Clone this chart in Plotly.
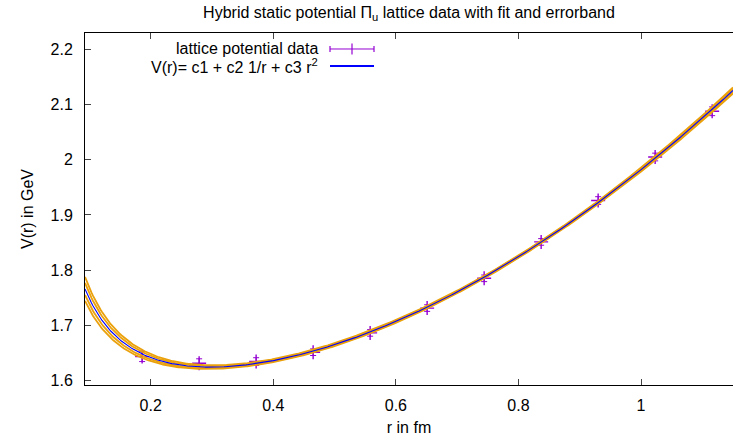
import numpy as np
import plotly.graph_objects as go

# ---- data ----
r_fm = [0.186, 0.279, 0.372, 0.465, 0.558, 0.651, 0.744, 0.837, 0.930, 1.023, 1.116]
V_gev = [1.643, 1.631, 1.634, 1.651, 1.686, 1.731, 1.785, 1.851, 1.926, 2.005, 2.088]
V_err = [0.009, 0.008, 0.007, 0.006, 0.006, 0.006, 0.006, 0.006, 0.007, 0.007, 0.008]

x_ticks = [0.2, 0.4, 0.6, 0.8, 1.0]
x_ticklabels = ["0.2", "0.4", "0.6", "0.8", "1"]
y_ticks = [1.6, 1.7, 1.8, 1.9, 2.0, 2.1, 2.2]
y_ticklabels = ["1.6", "1.7", "1.8", "1.9", "2", "2.1", "2.2"]
x_range = [0.0928, 1.150]
y_range = [1.5915, 2.2299]
band_levels = [-1.0, -0.5, 0.5, 1.0]

PURPLE = "#9400d3"
BLUE = "#0000ff"
ORANGE = "#eaa10c"
FONT = "Liberation Sans"

# ---- fit V(r) = c1 + c2/r + c3 r^2 (weighted least squares) ----
r = np.array(r_fm)
V = np.array(V_gev)
e = np.array(V_err)
A = np.column_stack([np.ones_like(r), 1.0 / r, r ** 2])
Aw = A / e[:, None]
coef, *_ = np.linalg.lstsq(Aw, V / e, rcond=None)
cov = np.linalg.inv(Aw.T @ Aw)

rr = np.linspace(x_range[0], x_range[1], 500)
B = np.column_stack([np.ones_like(rr), 1.0 / rr, rr ** 2])
fit = B @ coef
sig = np.sqrt(np.einsum("ij,jk,ik->i", B, cov, B))
scale = 0.95

fig = go.Figure()
fig.add_trace(go.Scatter(
    x=r_fm, y=V_gev, mode="markers",
    marker=dict(symbol="cross-thin", size=10, line=dict(color=PURPLE, width=1.4)),
    error_y=dict(type="data", array=V_err, color=PURPLE, thickness=1, width=3),
    showlegend=False, hoverinfo="skip"))
for k in band_levels:
    fig.add_trace(go.Scatter(x=rr, y=fit + k * scale * sig, mode="lines",
                             line=dict(color=ORANGE, width=1.8),
                             showlegend=False, hoverinfo="skip"))
fig.add_trace(go.Scatter(x=rr, y=fit, mode="lines",
                         line=dict(color=BLUE, width=1.1),
                         showlegend=False, hoverinfo="skip"))

# ---- gnuplot-style key (text right-aligned, sample to the right) ----
W, H = 733, 441
L, R, T, Bm = 85, 0, 32.5, 56.3
pw, ph = W - L - R, H - T - Bm
def px(x):
    return (x - L) / pw
def py(y):
    return (H - Bm - y) / ph

rows = [48.5, 65.5]
fig.add_annotation(x=px(320), y=py(rows[0]), xref="paper", yref="paper",
                   text="lattice potential data", showarrow=False,
                   xanchor="right", yanchor="middle", font=dict(size=16, color="black", family=FONT))
fig.add_annotation(x=px(320), y=py(rows[1]), xref="paper", yref="paper",
                   text="V(r)= c1 + c2 1/r + c3 r<sup>2</sup>", showarrow=False,
                   xanchor="right", yanchor="middle", font=dict(size=16, color="black", family=FONT))
s0, s1 = 330, 374
fig.add_shape(type="line", xref="paper", yref="paper", x0=px(s0), x1=px(s1),
              y0=py(rows[0]), y1=py(rows[0]), line=dict(color=PURPLE, width=1))
for xx, hh in [(s0, 3), (s1, 3), ((s0 + s1) / 2, 5.5)]:
    fig.add_shape(type="line", xref="paper", yref="paper", x0=px(xx), x1=px(xx),
                  y0=py(rows[0] - hh), y1=py(rows[0] + hh), line=dict(color=PURPLE, width=1.2))
fig.add_shape(type="line", xref="paper", yref="paper", x0=px(s0), x1=px(s1),
              y0=py(rows[1]), y1=py(rows[1]), line=dict(color=BLUE, width=2))

fig.update_layout(
    width=W, height=H,
    margin=dict(l=L, r=R, t=T, b=Bm, pad=0),
    paper_bgcolor="white", plot_bgcolor="white",
    font=dict(family=FONT, size=16, color="black"),
    title=dict(text="Hybrid static potential Π<sub>u</sub> lattice data with fit and errorband",
               x=((L + W) / 2) / W, xanchor="center", y=1 - 12 / H, yanchor="middle",
               font=dict(size=16)),
    showlegend=False,
    xaxis=dict(range=x_range, tickvals=x_ticks, ticktext=x_ticklabels,
               showgrid=False, zeroline=False, showline=True, linecolor="black", linewidth=1,
               mirror="ticks", ticks="inside", ticklen=6, tickcolor="#444", tickwidth=1,
               ticklabelstandoff=6,
               title=dict(text="r in fm", standoff=8, font=dict(size=16))),
    yaxis=dict(range=y_range, tickvals=y_ticks, ticktext=y_ticklabels,
               showgrid=False, zeroline=False, showline=True, linecolor="black", linewidth=1,
               mirror=False, ticks="inside", ticklen=6, tickcolor="#444", tickwidth=1,
               ticklabelstandoff=8,
               title=dict(text="V(r) in GeV", standoff=12, font=dict(size=16))),
)
fig.write_html("out.html")
